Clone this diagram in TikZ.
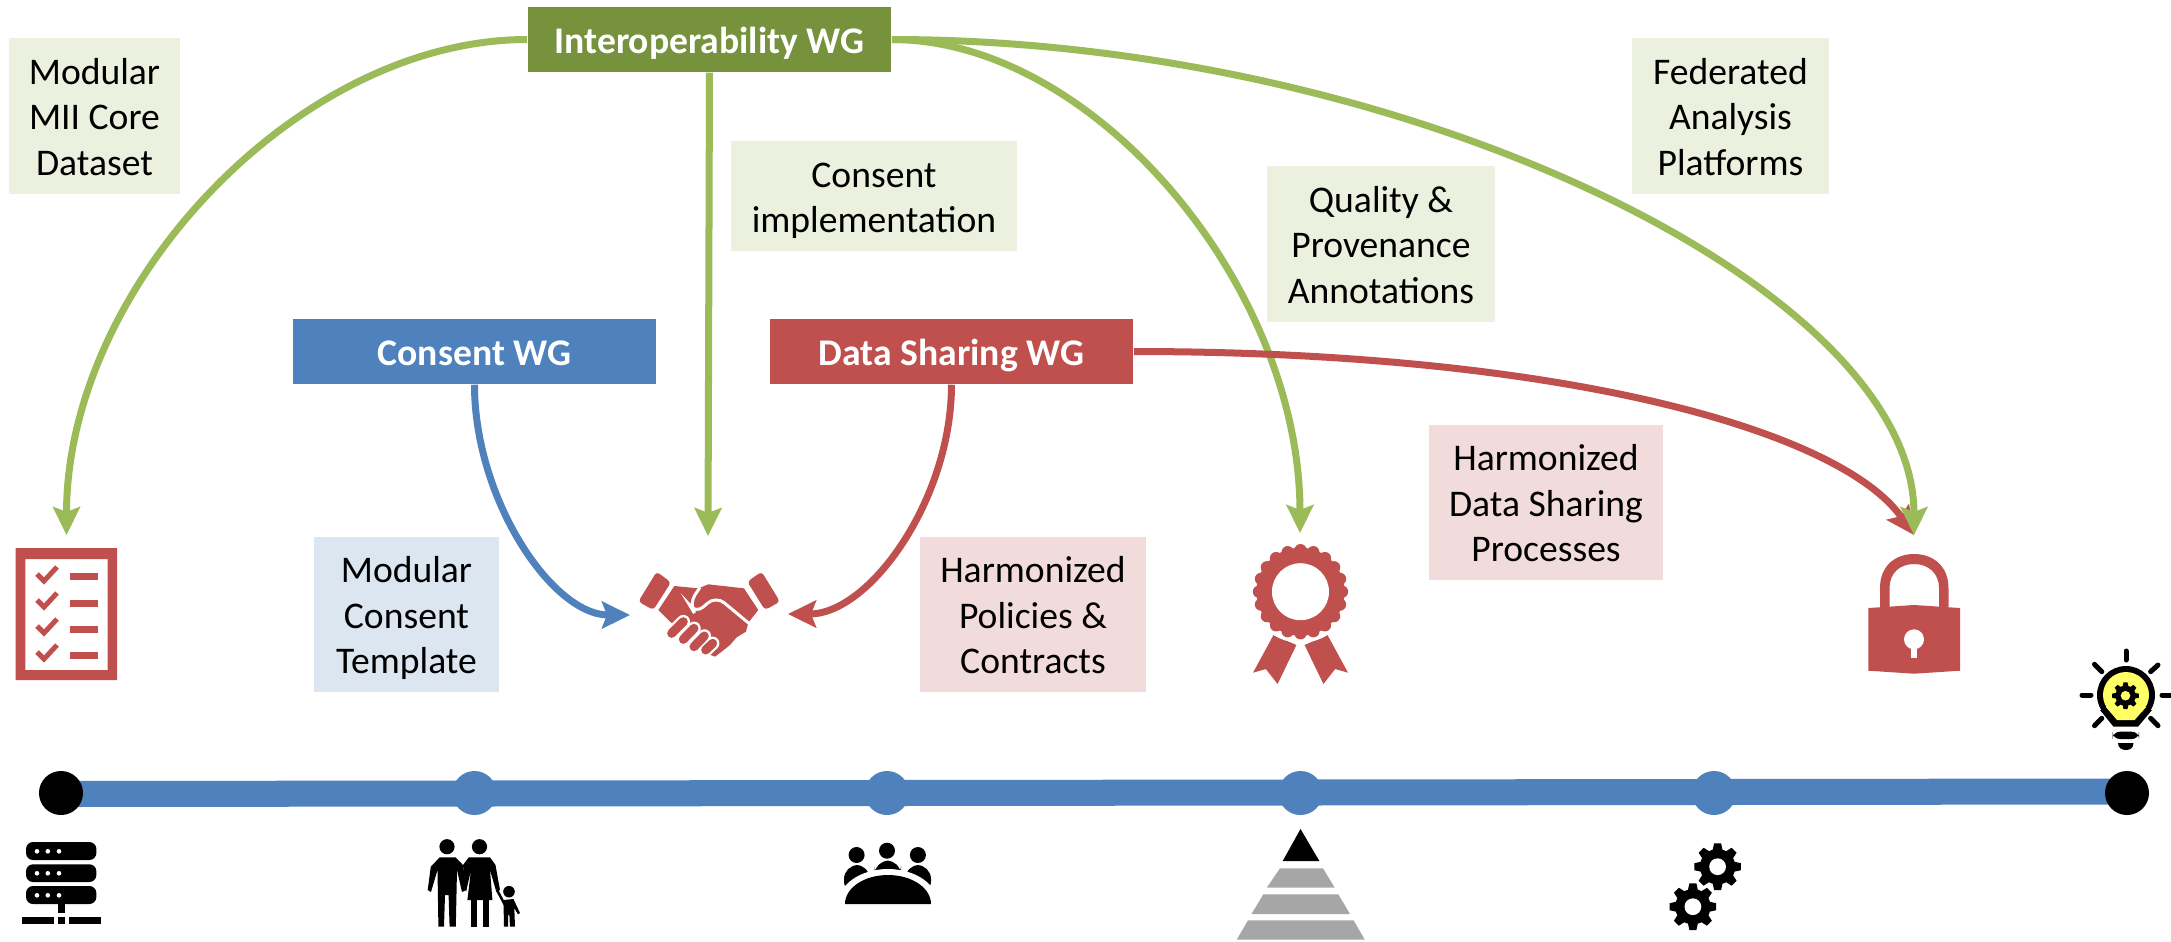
\documentclass[tikz,border=0pt]{standalone}
\usepackage{fontspec}
\setmainfont{Carlito}
\usetikzlibrary{arrows.meta, backgrounds}
\definecolor{wgblue}{RGB}{79, 129, 189}
\definecolor{wgred}{RGB}{192, 80, 77}
\definecolor{wggreen}{RGB}{155, 187, 89}
\definecolor{wgdark}{RGB}{118, 146, 60}
\definecolor{paleblue}{RGB}{220, 230, 241}
\definecolor{palered}{RGB}{242, 220, 219}
\definecolor{palegreen}{RGB}{235, 241, 222}
\definecolor{pyramidgrey}{RGB}{166, 166, 166}
\definecolor{bulbyellow}{RGB}{255, 255, 102}
\newcommand{\topstrut}{\rule{0pt}{10.1pt}}
\newcommand{\botstrut}{\rule[-2.3pt]{0pt}{2.3pt}}
\tikzset{
  wgbox/.style={minimum width=3.63cm, minimum height=0.65cm, inner sep=0pt, text=white,
    execute at begin node=\topstrut, execute at end node=\botstrut, font=\fontsize{10.7}{12.9}\selectfont\bfseries},
  outcome/.style={inner sep=0pt, align=center, font=\fontsize{10.7}{12.9}\selectfont},
  milestone/.style={circle, minimum size=0.44cm, inner sep=0pt, fill=wgblue},
  endpoint/.style={circle, minimum size=0.44cm, inner sep=0pt, fill=black},
  curve/.style={line width=0.07cm, -{Stealth[length=0.28cm, width=0.27cm, inset=0.05cm]}}
}
\newcommand{\gearicon}[4]{
  \fill (#1,#2) circle (0.76*#3);
  \foreach \a in {0,45,...,315}
    \fill[shift={(#1,#2)}, rotate=\a] (-0.24*#3,0.6*#3) -- (-0.15*#3,#3) -- (0.15*#3,#3) -- (0.24*#3,0.6*#3) -- cycle;
  \fill[#4] (#1,#2) circle (0.36*#3);
}
\begin{document}
\begin{tikzpicture}[x=0.01cm, y=-0.01cm]
  \useasboundingbox (0,0) rectangle (2171,941);

  \node[wgbox, fill=wgdark] (interopwg) at (709.5,39.5) {Interoperability WG};
  \node[wgbox, fill=wgblue] (consentwg) at (474.5,351.5) {Consent WG};
  \node[wgbox, fill=wgred] (sharingwg) at (951.5,351.5) {Data Sharing WG};

  \node[outcome, fill=palegreen, minimum width=1.71cm, minimum height=1.56cm] (coredataset) at (94.5,116) {\topstrut Modular\\MII Core\\Dataset\botstrut};
  \node[outcome, fill=palegreen, minimum width=2.86cm, minimum height=1.10cm] (implementation) at (874,196) {\topstrut Consent\\implementation\botstrut};
  \node[outcome, fill=palegreen, minimum width=2.28cm, minimum height=1.56cm] (annotations) at (1381,244) {\topstrut Quality \&\\Provenance\\Annotations\botstrut};
  \node[outcome, fill=palegreen, minimum width=1.97cm, minimum height=1.56cm] (platforms) at (1730.5,116) {\topstrut Federated\\Analysis\\Platforms\botstrut};
  \node[outcome, fill=paleblue, minimum width=1.85cm, minimum height=1.55cm] (template) at (406.5,614.5) {\topstrut Modular\\Consent\\Template\botstrut};
  \node[outcome, fill=palered, minimum width=2.26cm, minimum height=1.55cm] (contracts) at (1033,614.5) {\topstrut Harmonized\\Policies \&\\Contracts\botstrut};
  \node[outcome, fill=palered, minimum width=2.34cm, minimum height=1.55cm] (processes) at (1546,502.5) {\topstrut Harmonized\\Data Sharing\\Processes\botstrut};

  \node[endpoint] (start) at (61,793) {};
  \node[milestone] (stepa) at (474.5,793) {};
  \node[milestone] (stepb) at (887,793) {};
  \node[milestone] (stepc) at (1300.5,793) {};
  \node[milestone] (stepd) at (1714,793) {};
  \node[endpoint] (finish) at (2127,793) {};
  \begin{scope}[on background layer]
    \draw[wgblue, line width=0.26cm] ([yshift=-0.01cm]start.center) -- ([yshift=0.015cm]finish.center);
  \end{scope}

  \coordinate (checklisttip) at (66.5,535);
  \coordinate (handsdown) at (708,536);
  \coordinate (handsleft) at (630,615);
  \coordinate (handsright) at (788,614);
  \coordinate (rosettetip) at (1300,533);
  \coordinate (locktip) at (1914,535);

  \draw[curve, wggreen] (interopwg.west) .. controls (297,39.5) and (66.5,287) .. (checklisttip);
  \draw[curve, wggreen] (interopwg.south) -- (handsdown);
  \draw[curve, wgblue] (consentwg.south) .. controls (474.5,499) and (552,615) .. (handsleft);
  \draw[curve, wgred] (sharingwg.south) .. controls (951.5,499) and (870,614) .. (handsright);
  \draw[curve, wggreen] (interopwg.east) .. controls (1095,39.5) and (1300,287) .. (rosettetip);
  \draw[curve, wgred] (sharingwg.east) .. controls (1560,351.5) and (1840,430) .. (locktip);
  \draw[curve, wggreen] (interopwg.east) .. controls (1402,39.5) and (1914,287) .. (locktip);

  \fill[wgred, even odd rule] (15.6,548) rectangle (117,680) (25.4,559) rectangle (107.6,670);
  \fill[wgred] (70,572.5) rectangle (98,579.5);
  \fill[wgred] (70,599.5) rectangle (98,606.5);
  \fill[wgred] (70,625.5) rectangle (98,632.5);
  \fill[wgred] (70,651.5) rectangle (98,658.5);
  \draw[wgred, line width=0.05cm] (37,574) -- (44,581) -- (57,567);
  \draw[wgred, line width=0.05cm] (37,600) -- (44,607) -- (57,593);
  \draw[wgred, line width=0.05cm] (37,626) -- (44,633) -- (57,619);
  \draw[wgred, line width=0.05cm] (37,652) -- (44,659) -- (57,645);

  \begin{scope}[shift={(620,550)}, scale=0.3333]
    \fill[wgred, rounded corners=1pt] (110,65) -- (153,97) -- (100,180) -- (55,155) -- cycle;
    \fill[wgred, rounded corners=1pt] (425,65) -- (480,155) -- (435,180) -- (382,95) -- cycle;
    \fill[wgred] (115,180) -- (163,108) -- (235,115) -- (265,103) -- (372,115) -- (415,180) -- (385,218) -- (378,245) -- (350,262) -- (330,285) -- (305,305) -- (285,320) -- (272,315) -- (258,300) -- (150,215) -- cycle;
    \draw[white, line width=0.03cm, rounded corners=3pt] (240,112) -- (207,162) -- (225,192) -- (288,138) -- (387,220);
    \draw[white, line width=0.135cm, line cap=round] (190,215) -- (155,250);
    \draw[white, line width=0.135cm, line cap=round] (222,235) -- (190,268);
    \draw[white, line width=0.135cm, line cap=round] (253,258) -- (222,290);
    \draw[white, line width=0.135cm, line cap=round] (278,280) -- (257,300);
    \draw[wgred, line width=0.09cm, line cap=round] (190,215) -- (155,250);
    \draw[wgred, line width=0.09cm, line cap=round] (222,235) -- (190,268);
    \draw[wgred, line width=0.09cm, line cap=round] (253,258) -- (222,290);
    \draw[wgred, line width=0.09cm, line cap=round] (278,280) -- (257,300);
  \end{scope}

  \fill[wgred] (1273.5,635) -- (1296.4,645) -- (1277.6,684) -- (1265.8,669) -- (1253,672.7) -- cycle;
  \fill[wgred] (1327.5,635) -- (1304.6,645) -- (1323.4,684) -- (1335.2,669) -- (1348,672.7) -- cycle;
  \fill[white] (1300.5,591.7) circle (51);
  \fill[wgred] (1300.5,591.7) circle (44);
  \foreach \a in {0,18,...,342}
    \fill[wgred, shift={(1300.5,591.7)}] (\a:41.5) circle (6.2);
  \fill[white] (1300.5,591.7) circle (28.5);

  \fill[wgred, even odd rule] (1880,607) -- (1880,588) .. controls (1880,566) and (1895,554) .. (1914,554) .. controls (1933,554) and (1948.5,566) .. (1948.5,588) -- (1948.5,607) -- (1939,607) -- (1939,588) .. controls (1939,573) and (1928,564) .. (1914,564) .. controls (1900,564) and (1889.5,573) .. (1889.5,588) -- (1889.5,607) -- cycle;
  \fill[wgred] (1868.4,608) -- (1914,605) -- (1960,608) -- (1960,670.7) -- (1914,673.7) -- (1868.4,670.7) -- cycle;
  \fill[white] (1914,639.3) circle (10);
  \fill[white] (1910.7,640) rectangle (1917.3,657.7);

  \fill[rounded corners=2pt] (26,842) rectangle (96.4,860);
  \fill[rounded corners=2pt] (26,864.3) rectangle (96.4,882);
  \fill[rounded corners=2pt] (26,886) rectangle (96.4,904);
  \foreach \dotx in {37,47.8,59} {
    \fill[white] (\dotx,851.3) circle (2.3);
    \fill[white] (\dotx,873.3) circle (2.3);
    \fill[white] (\dotx,895.3) circle (2.3);
  }
  \fill (58,904) rectangle (65.2,913);
  \fill (22,917) rectangle (54,924);
  \fill (58,917) rectangle (65.2,924);
  \fill (69,917) rectangle (101,924);

  \fill (447,846.7) circle (7.6);
  \fill[line join=round] (431,892) -- (427.7,890) -- (430.8,866.7) -- (439.7,857.3) -- (455.4,857.3) -- (463,865) -- (466.5,890) -- (462,892) -- (457,870) -- (455.8,926.7) -- (449.6,926.7) -- (448.6,895) -- (445,895) -- (444,926.7) -- (438.4,926.7) -- (437.5,870) -- cycle;
  \fill (479.5,846.7) circle (7.6);
  \fill (463,865) -- (468.8,857.3) -- (490,857.3) -- (495.5,865) -- (500,890) -- (496.4,892) -- (490,870) -- (492.4,900) -- (467.4,900) -- (471,870) -- (466,892) -- cycle;
  \fill (471.4,899) rectangle (476.8,926.7);
  \fill (483,899) rectangle (489,926.7);
  \fill (509,891.7) circle (5.8);
  \draw[line width=0.025cm] (497,890) -- (505,905);
  \fill (503.6,900) -- (513.4,899) -- (520,913) -- (518,914.3) -- (514.3,908) -- (515,926.7) -- (510,926.7) -- (509.4,915) -- (508,915) -- (508,926.7) -- (504,926.7) -- (503.6,906.7) -- cycle;

  \fill (856.6,855) circle (8);
  \fill (887,850.7) circle (8);
  \fill (917.9,855) circle (8);
  \fill[rounded corners=4pt] (844,895) -- (844,865) -- (870,865) -- (870,895) -- cycle;
  \fill[rounded corners=4pt] (905,895) -- (905,865) -- (931,865) -- (931,895) -- cycle;
  \fill[rounded corners=4pt] (874.5,880) -- (874.5,860.7) -- (901,860.7) -- (901,880) -- cycle;
  \fill[white] (838,904) .. controls (838,885) and (860,869) .. (888,869) .. controls (916,869) and (938,885) .. (938,904) -- (938,910) -- (838,910) -- cycle;
  \fill (845,904) .. controls (845,888) and (864,875) .. (888,875) .. controls (912,875) and (931,888) .. (931,904) -- cycle;

  \fill (1300.5,829) -- (1319.4,861) -- (1282.7,861) -- cycle;
  \fill[pyramidgrey] (1280,868.3) -- (1323,868.3) -- (1334.7,887.7) -- (1266.8,887.7) -- cycle;
  \fill[pyramidgrey] (1263.3,894.3) -- (1338.3,894.3) -- (1350,914) -- (1251.5,914) -- cycle;
  \fill[pyramidgrey] (1248,920.3) -- (1353.6,920.3) -- (1364.8,939.7) -- (1236.7,939.7) -- cycle;

  \gearicon{1717.6}{866.7}{23.3}{white}
  \gearicon{1692.9}{906.7}{23.3}{white}

  \fill (2126,695) circle (29);
  \fill (2100,710) -- (2113.5,726.7) -- (2138,726.7) -- (2152,710) -- cycle;
  \fill[bulbyellow] (2126,695) circle (23);
  \fill[bulbyellow] (2106,707) -- (2117,720) -- (2134.6,720) -- (2146,707) -- cycle;
  \gearicon{2125.5}{695.7}{13.3}{bulbyellow}
  \fill[rounded corners=2pt] (2112.7,731.7) rectangle (2139,739);
  \fill (2118,743) .. controls (2118,748) and (2122,750) .. (2126,750) .. controls (2130,750) and (2133.5,748) .. (2133.5,743) -- cycle;
  \draw[line width=0.05cm, line cap=round] (2126,651) -- (2126,660);
  \draw[line width=0.05cm, line cap=round] (2082,695) -- (2091,695);
  \draw[line width=0.05cm, line cap=round] (2162,695) -- (2171,695);
  \draw[line width=0.05cm, line cap=round] (2094.5,664.3) -- (2101.8,671.7);
  \draw[line width=0.05cm, line cap=round] (2158,665) -- (2150.6,671.7);
  \draw[line width=0.05cm, line cap=round] (2094.5,725.7) -- (2101.8,718.3);
  \draw[line width=0.05cm, line cap=round] (2158,725.7) -- (2150.6,718.3);
\end{tikzpicture}
\end{document}
